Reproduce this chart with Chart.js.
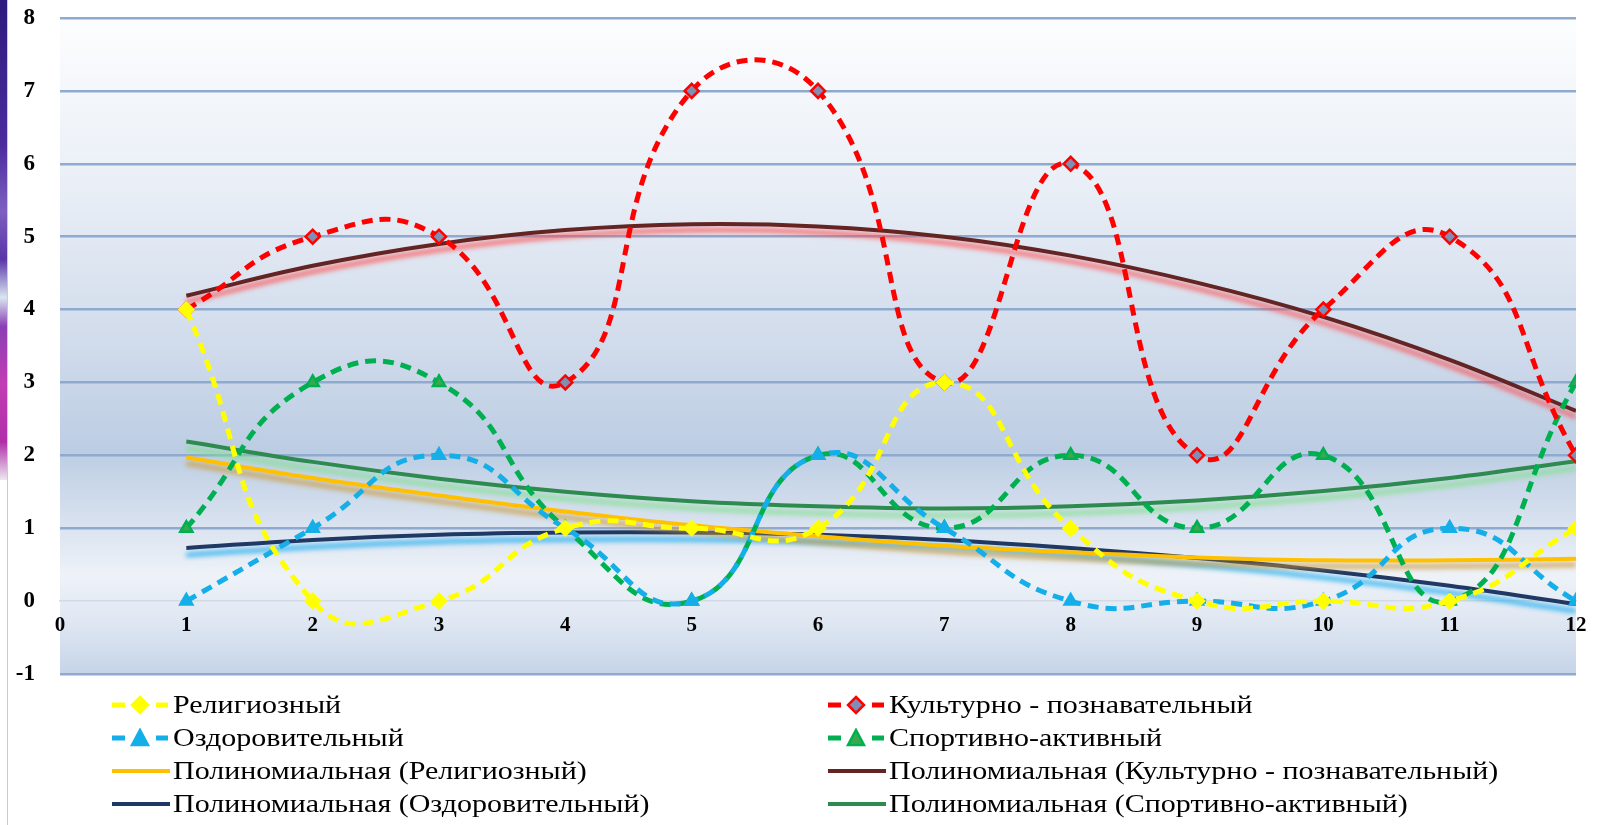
<!DOCTYPE html>
<html>
<head>
<meta charset="utf-8">
<script src="https://cdn.jsdelivr.net/npm/chart.js@4.4.1/dist/chart.umd.min.js"></script>
<style>
  html, body { margin:0; padding:0; background:#ffffff; width:1598px; height:825px; overflow:hidden;
    font-family:"Liberation Serif","Times New Roman",serif; }
  #strip { position:absolute; left:0; top:0; width:7px; height:480px;
    background:linear-gradient(180deg,#2e1b7d 0%,#4b2b9e 30%,#7e5fc0 44%,#5a35a8 54%,#d8e6f0 62%,#8a3fb5 68%,#c23cb4 80%,#b02fa8 92%,#ece8f0 100%); }
  #sline { position:absolute; left:7px; top:0; width:1px; height:825px; background:#cbcbcb; }
  #wrap { position:absolute; left:0; top:0; width:1598px; height:690px; }
  #legend { position:absolute; left:0; top:0; width:1598px; height:825px; pointer-events:none; }
  .item { position:absolute; height:34px; display:flex; align-items:center; white-space:nowrap; }
  .item svg { flex:none; }
  .item span { display:inline-block; font-size:25px; color:#000; margin-left:3px; transform:scaleX(1.2); transform-origin:left center; }
</style>
</head>
<body>
<div id="strip"></div>
<div id="sline"></div>
<div id="wrap"><canvas id="c" width="1598" height="690"></canvas></div>
<div id="legend"></div>
<script>
// ---- data ----
const xValues = [1,2,3,4,5,6,7,8,9,10,11,12];
const xTicks = [0,1,2,3,4,5,6,7,8,9,10,11,12];
const yTicks = [-1,0,1,2,3,4,5,6,7,8];

const seriesNames = ['Религиозный','Культурно - познавательный','Оздоровительный','Спортивно-активный'];
const religious = [4,0,0,1,1,1,3,1,0,0,0,1];
const cultural  = [4,5,5,3,7,7,3,6,2,4,5,2];
const health    = [0,1,2,1,0,2,1,0,0,0,1,0];
const sport     = [1,3,3,1,0,2,1,2,1,2,0,3];

const trendNames = ['Полиномиальная (Религиозный)','Полиномиальная (Культурно - познавательный)',
                    'Полиномиальная (Оздоровительный)','Полиномиальная (Спортивно-активный)'];
const religiousTrend = [1.97,1.69,1.45,1.23,1.04,0.89,0.76,0.67,0.60,0.56,0.56,0.58];
const culturalTrend  = [4.19,4.60,4.90,5.09,5.17,5.14,5.00,4.74,4.37,3.90,3.31,2.61];
const healthTrend    = [0.73,0.84,0.91,0.94,0.94,0.91,0.84,0.73,0.59,0.42,0.21,-0.04];
const sportTrend     = [2.19,1.91,1.68,1.50,1.37,1.30,1.27,1.30,1.38,1.51,1.69,1.92];

const pts = arr => arr.map((v,i) => ({x: xValues[i], y: v}));

const C = {
  yellow:'#ffff00', red:'#ff0000', blue:'#14aee8', green:'#00b050',
  tRel:'#ffc000', tCul:'#632423', tHea:'#1f3864', tSpo:'#2e8b4e'
};

function seriesDS(label, data, color, style, fill) {
  return { label, data: pts(data), borderColor: color, borderWidth: 5, borderDash: [11,7],
    tension: 0.5, fill: false, pointStyle: style, pointRadius: 7, pointBorderWidth: 2.5,
    pointBackgroundColor: fill, pointBorderColor: color, order: 0, _legendType: 'series', _marker: style };
}
function trendDS(label, data, color, shadow, offY) {
  return { label, data: pts(data), borderColor: color, borderWidth: 4, tension: 0.4, fill: false,
    pointRadius: 0, order: 1, shadowColor: shadow, shadowBlur: 5, shadowOffsetY: offY, _legendType: 'trend' };
}

const datasets = [
  seriesDS(seriesNames[0], religious, C.yellow, 'rectRot', C.yellow),
  seriesDS(seriesNames[1], cultural, C.red, 'rectRot', '#7f8fb4'),
  seriesDS(seriesNames[2], health, C.blue, 'triangle', C.blue),
  seriesDS(seriesNames[3], sport, C.green, 'triangle', '#3aa84e'),
  trendDS(trendNames[0], religiousTrend, C.tRel, 'rgba(205,150,50,0.85)', 6),
  trendDS(trendNames[1], culturalTrend, C.tCul, 'rgba(255,70,70,0.85)', 6),
  trendDS(trendNames[2], healthTrend, C.tHea, 'rgba(20,170,240,0.9)', 7),
  trendDS(trendNames[3], sportTrend, C.tSpo, 'rgba(130,225,140,0.9)', 7)
];

const bgPlugin = {
  id: 'bg',
  beforeDraw(chart) {
    const {ctx, chartArea: a} = chart;
    const g = ctx.createLinearGradient(0, a.top, 0, a.bottom);
    g.addColorStop(0.00, '#fcfdfe');
    g.addColorStop(0.25, '#eaeff7');
    g.addColorStop(0.50, '#d0dbeb');
    g.addColorStop(0.66, '#bccde3');
    g.addColorStop(0.76, '#d6e0ee');
    g.addColorStop(0.85, '#eef2f8');
    g.addColorStop(0.92, '#dfe7f2');
    g.addColorStop(1.00, '#c6d4e8');
    ctx.save();
    ctx.fillStyle = g;
    ctx.fillRect(a.left, a.top, a.right - a.left, a.bottom - a.top);
    ctx.restore();
  }
};
const shadowPlugin = {
  id: 'shadow',
  beforeDatasetDraw(chart, args) {
    const ds = chart.data.datasets[args.index];
    if (ds.shadowColor) {
      const c = chart.ctx; c.save();
      c.shadowColor = ds.shadowColor; c.shadowBlur = ds.shadowBlur;
      c.shadowOffsetX = 0; c.shadowOffsetY = ds.shadowOffsetY;
    }
  },
  afterDatasetDraw(chart, args) {
    const ds = chart.data.datasets[args.index];
    if (ds.shadowColor) chart.ctx.restore();
  }
};

Chart.defaults.font.family = '"Liberation Serif","Times New Roman",serif';

new Chart(document.getElementById('c'), {
  type: 'line',
  data: { datasets },
  options: {
    responsive: false, animation: false, devicePixelRatio: 1,
    layout: { padding: { left: 0, top: 18, right: 22, bottom: 16 } },
    plugins: { legend: { display: false }, tooltip: { enabled: false } },
    scales: {
      x: {
        type: 'linear', position: { y: 0 }, min: 0, max: 12,
        afterBuildTicks: s => { s.ticks = xTicks.map(v => ({ value: v })); },
        ticks: { font: { size: 21, weight: 'bold' }, color: '#000', padding: 12, maxRotation: 0, autoSkip: false },
        grid: { display: false, drawTicks: false },
        border: { display: true, color: '#d4dae3', width: 1.5 },
        afterFit: s => { s.height = 0; s.paddingLeft = 0; s.paddingRight = 0; }
      },
      y: {
        min: -1, max: 8,
        afterBuildTicks: s => { s.ticks = yTicks.map(v => ({ value: v })); },
        ticks: { font: { size: 23, weight: 'bold' }, color: '#000', padding: 25 },
        grid: { color: c => (c.tick && c.tick.value === 0) ? 'rgba(0,0,0,0)' : '#8eaacf', lineWidth: 2.5, drawTicks: false },
        border: { display: false },
        afterFit: s => { s.width = 60; s.paddingTop = 0; s.paddingBottom = 0; }
      }
    }
  },
  plugins: [bgPlugin, shadowPlugin]
});

// ---- HTML legend (two columns) built from the dataset labels ----
function markerSvg(ds) {
  const col = ds.borderColor;
  if (ds._legendType === 'trend') {
    return `<svg width="58" height="20"><line x1="0" y1="10" x2="58" y2="10" stroke="${col}" stroke-width="4"/></svg>`;
  }
  const shape = ds._marker === 'rectRot'
    ? `<polygon points="28,2 36,10 28,18 20,10" fill="${ds.pointBackgroundColor}" stroke="${col}" stroke-width="2.5"/>`
    : `<polygon points="28,2 36,17 20,17" fill="${ds.pointBackgroundColor}" stroke="${col}" stroke-width="2.5"/>`;
  return `<svg width="58" height="20"><line x1="0" y1="10" x2="13" y2="10" stroke="${col}" stroke-width="5"/>` +
         `<line x1="44" y1="10" x2="56" y2="10" stroke="${col}" stroke-width="5"/>${shape}</svg>`;
}
const legendOrder = [0,1,2,3,4,5,6,7];
const colX = [112, 828];
const rowY = [705, 738, 771, 804];
const leg = document.getElementById('legend');
legendOrder.forEach((di, k) => {
  const ds = datasets[di];
  const el = document.createElement('div');
  el.className = 'item';
  el.style.left = colX[k % 2] + 'px';
  el.style.top = (rowY[Math.floor(k / 2)] - 17) + 'px';
  el.innerHTML = markerSvg(ds) + `<span>${ds.label}</span>`;
  leg.appendChild(el);
});
</script>
</body>
</html>
